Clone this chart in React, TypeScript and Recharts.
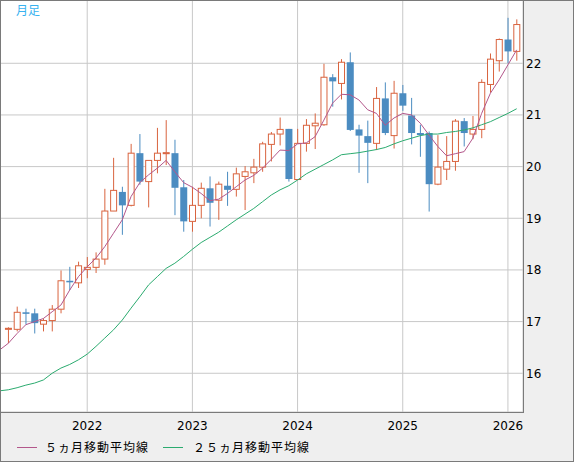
import React from 'react';
import { ComposedChart, Bar, Line, XAxis, YAxis, CartesianGrid } from 'recharts';

const months = [
  '2021/04', '2021/05', '2021/06', '2021/07', '2021/08', '2021/09', '2021/10', '2021/11', '2021/12',
  '2022/01', '2022/02', '2022/03', '2022/04', '2022/05', '2022/06', '2022/07', '2022/08', '2022/09', '2022/10', '2022/11', '2022/12',
  '2023/01', '2023/02', '2023/03', '2023/04', '2023/05', '2023/06', '2023/07', '2023/08', '2023/09', '2023/10', '2023/11', '2023/12',
  '2024/01', '2024/02', '2024/03', '2024/04', '2024/05', '2024/06', '2024/07', '2024/08', '2024/09', '2024/10', '2024/11', '2024/12',
  '2025/01', '2025/02', '2025/03', '2025/04', '2025/05', '2025/06', '2025/07', '2025/08', '2025/09', '2025/10', '2025/11', '2025/12',
  '2026/01', '2026/02',
];

const opens = [
  16.85, 16.85, 17.18, 17.16, 16.95, 17.02, 17.24, 17.79, 17.75,
  18.01, 18.05, 18.21, 19.14, 19.51, 19.25, 20.26, 19.71, 20.12, 20.25, 20.26, 19.60,
  18.94, 19.25, 19.58, 19.35, 19.63, 19.56, 19.81, 19.88, 19.99, 20.43, 20.63, 20.73,
  19.75, 20.45, 20.79, 20.81, 21.73, 21.61, 22.02, 20.72, 20.59, 20.45, 21.32, 20.60,
  21.42, 20.99, 20.65, 20.65, 19.66, 19.95, 20.10, 20.88, 20.63, 20.72, 21.59, 22.05,
  22.46, 22.23,
];
const highs = [
  16.89, 17.29, 17.25, 17.25, 17.06, 17.32, 17.99, 18.06, 18.16,
  18.25, 18.34, 19.57, 20.17, 19.61, 20.44, 20.63, 20.12, 20.75, 20.90, 20.52, 19.74,
  19.61, 19.69, 19.81, 19.71, 19.90, 19.98, 20.01, 20.15, 20.48, 20.67, 20.95, 20.73,
  20.73, 20.92, 21.03, 21.99, 21.79, 22.08, 22.21, 20.81, 20.89, 21.54, 21.63, 21.66,
  21.58, 21.33, 20.81, 20.68, 20.61, 20.59, 20.92, 20.94, 20.98, 21.69, 22.19, 22.48,
  22.88, 22.85,
];
const lows = [
  16.58, 16.81, 16.94, 16.77, 16.81, 16.81, 17.16, 17.61, 17.65,
  17.84, 17.94, 18.10, 19.14, 18.68, 19.23, 19.65, 19.21, 19.87, 20.03, 19.06, 18.74,
  18.74, 19.00, 18.84, 18.97, 19.24, 19.42, 19.16, 19.68, 19.90, 20.10, 20.41, 19.71,
  19.74, 20.29, 20.34, 20.79, 21.16, 21.30, 20.69, 19.88, 19.68, 20.32, 20.61, 20.35,
  21.08, 20.43, 20.19, 19.13, 19.64, 19.74, 19.92, 20.39, 20.53, 20.55, 21.43, 21.84,
  22.00, 22.05,
];
const closes = [
  16.87, 17.18, 17.15, 16.97, 17.02, 17.24, 17.79, 17.76, 18.08,
  18.05, 18.21, 19.14, 19.54, 19.25, 20.26, 19.71, 20.12, 20.26, 20.27, 19.59, 18.94,
  19.25, 19.58, 19.30, 19.66, 19.55, 19.86, 19.90, 19.99, 20.44, 20.63, 20.72, 19.76,
  20.45, 20.80, 20.84, 21.73, 21.65, 22.02, 20.71, 20.60, 20.46, 21.32, 20.65, 21.42,
  21.18, 20.65, 20.61, 19.66, 19.99, 20.10, 20.88, 20.65, 20.72, 21.63, 22.08, 22.46,
  22.23, 22.75,
];
// moving averages, one value per candle
const ma5 = [
  16.58, 16.77, 16.94, 17.00, 17.06, 17.19, 17.32, 17.61, 17.87,
  18.06, 18.23, 18.45, 18.71, 18.97, 19.42, 19.69, 19.84, 19.97, 20.12, 19.90, 19.69,
  19.60, 19.48, 19.34, 19.37, 19.48, 19.61, 19.74, 19.83, 19.97, 20.14, 20.32, 20.31,
  20.44, 20.46, 20.58, 20.90, 21.23, 21.40, 21.39, 21.29, 21.10, 21.03, 20.80, 20.94,
  21.03, 21.00, 20.84, 20.61, 20.39, 20.21, 20.25, 20.29, 20.55, 21.03, 21.42, 21.68,
  21.97, 22.26,
];
const ma25 = [
  15.68, 15.72, 15.77, 15.81, 15.87, 16.00, 16.10, 16.17, 16.26,
  16.37, 16.52, 16.68, 16.84, 17.03, 17.26, 17.48, 17.71, 17.87, 18.03, 18.13, 18.26,
  18.40, 18.53, 18.63, 18.73, 18.85, 18.97, 19.08, 19.19, 19.32, 19.45, 19.55, 19.63,
  19.74, 19.86, 19.95, 20.04, 20.13, 20.23, 20.25, 20.27, 20.30, 20.33, 20.37, 20.44,
  20.50, 20.55, 20.60, 20.63, 20.63, 20.66, 20.68, 20.71, 20.75, 20.81, 20.87, 20.95,
  21.03, 21.12,
];
// moving-average values of the month before the first candle (line runs off the left edge)
const prevMa5 = 16.45;
const prevMa25 = 15.66;

const yearTickIdx = [9, 21, 33, 45, 57];
const priceTicks = [16, 17, 18, 19, 20, 21, 22];

const data = [
  { idx: -1, date: '2021/03', open: null, high: null, low: null, close: null, range: null, ma5: prevMa5, ma25: prevMa25 },
  ...months.map((m, i) => ({
    idx: i,
    date: m,
    open: opens[i],
    high: highs[i],
    low: lows[i],
    close: closes[i],
    range: [lows[i], highs[i]],
    ma5: ma5[i],
    ma25: ma25[i],
  })),
];

const UP = '#d9643f';
const DOWN = '#4b8cc1';

const Candle = (props: any) => {
  const { x, y, width, height, payload } = props;
  if (!payload || payload.open == null || x == null || y == null) return null;
  const { open, close, high, low } = payload;
  const top = Math.min(y, y + height);
  const h = Math.abs(height);
  const ppu = h / (high - low);
  const yOf = (v: number) => top + (high - v) * ppu;
  const cx = x + width / 2;
  const up = close >= open;
  const color = up ? UP : DOWN;
  const bt = yOf(Math.max(open, close));
  const bb = yOf(Math.min(open, close));
  return (
    <g>
      <line x1={cx} x2={cx} y1={top} y2={top + h} stroke={color} strokeWidth={1} />
      {up ? (
        <rect x={cx - 3} y={bt} width={6} height={Math.max(bb - bt, 0.5)} fill="#fff" stroke={color} strokeWidth={1} />
      ) : (
        <rect x={cx - 3.5} y={bt} width={7} height={Math.max(bb - bt, 1)} fill={color} />
      )}
    </g>
  );
};

const tickStyle = { fill: '#000', fontSize: 12, fontFamily: 'DejaVu Sans' };

export default function App() {
  return (
    <div style={{ position: 'absolute', left: 0, top: 0, width: 574, height: 462, background: '#efefef', overflow: 'hidden' }}>
      <ComposedChart width={574} height={462} data={data} margin={{ top: 0, right: 0, bottom: 20, left: 0 }}>
        <CartesianGrid stroke="#c8c8c8" fill="#ffffff" />
        <XAxis
          dataKey="idx"
          type="number"
          domain={[-0.95, 58.72]}
          allowDataOverflow
          ticks={yearTickIdx}
          interval={0}
          tickFormatter={(v: number) => (months[v] || '').slice(0, 4)}
          axisLine={false}
          tickLine={false}
          tickSize={0}
          tickMargin={9}
          height={30}
          tick={tickStyle}
        />
        <YAxis
          orientation="right"
          domain={[15.25, 23.225]}
          ticks={priceTicks}
          allowDataOverflow
          axisLine={false}
          tickLine={false}
          tickSize={0}
          tickMargin={3}
          width={51}
          tick={tickStyle}
        />
        <Bar dataKey="range" shape={<Candle />} barSize={7} isAnimationActive={false} />
        <Line dataKey="ma25" type="linear" stroke="#2bab6f" strokeWidth={1} dot={false} activeDot={false} isAnimationActive={false} />
        <Line dataKey="ma5" type="linear" stroke="#b3578b" strokeWidth={1} dot={false} activeDot={false} isAnimationActive={false} />
      </ComposedChart>
      <div style={{ position: 'absolute', left: 0, top: 0, width: 524, height: 413, border: '1px solid #7a7a7a', boxSizing: 'border-box', pointerEvents: 'none' }} />
      <div style={{ position: 'absolute', left: 0, top: 0, width: 574, height: 462, border: '1px solid #7a7a7a', boxSizing: 'border-box', pointerEvents: 'none' }} />
      <div style={{ position: 'absolute', left: 16, top: 4, fontSize: 12, lineHeight: '12px', color: '#38b2f0', fontFamily: '"Noto Sans CJK JP"' }}>月足</div>
      <div style={{ position: 'absolute', left: 0, top: 441, width: 574, height: 14, fontFamily: '"Noto Sans CJK JP"', fontSize: 12, lineHeight: '12px', color: '#000' }}>
        <div style={{ position: 'absolute', left: 17, top: 6, width: 20, borderTop: '1px solid #b3578b' }} />
        <span style={{ position: 'absolute', left: 45, top: 0, letterSpacing: 1, whiteSpace: 'nowrap' }}>５ヵ月移動平均線</span>
        <div style={{ position: 'absolute', left: 163, top: 6, width: 20, borderTop: '1px solid #2bab6f' }} />
        <span style={{ position: 'absolute', left: 193, top: 0, letterSpacing: 1, whiteSpace: 'nowrap' }}>２５ヵ月移動平均線</span>
      </div>
    </div>
  );
}
